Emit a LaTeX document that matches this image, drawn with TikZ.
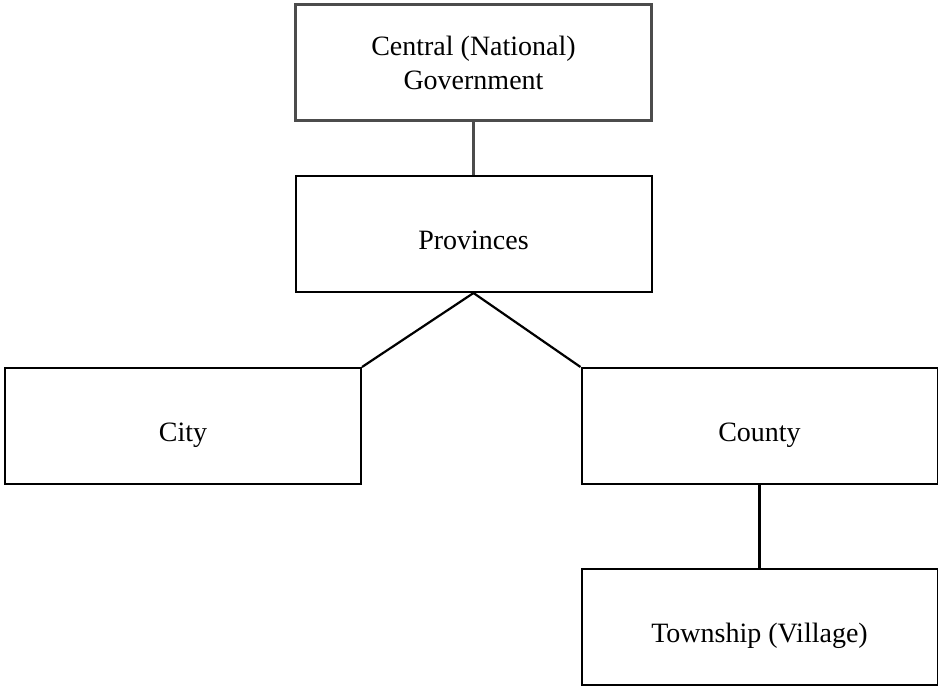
\documentclass[tikz,border=0pt]{standalone}
\usepackage{fontspec}
\setmainfont{Liberation Serif}
\usetikzlibrary{positioning}

\tikzset{
    unitbox/.style = {draw, line width = 1pt, minimum width = 178pt, minimum height = 58pt,
        align = center, font = \fontsize{14}{17}\selectfont, inner sep = 0pt,
        text height = 18pt, text depth = 3pt},
    topbox/.style = {unitbox, draw = black!70, line width = 1.5pt, text height = , text depth = },
    link/.style = {line width = 1.1pt}
}

\begin{document}
\begin{tikzpicture}[x = 1pt, y = 1pt]
    \useasboundingbox (0, 0) rectangle (469, -343);

    \node[topbox] (central) at (236.75, -31.25) {Central (National)\\Government};
    \node[unitbox] (provinces) at (236.75, -117) {Provinces};
    \node[unitbox] (city) at (91.5, -213) {City};
    \node[unitbox] (county) at (379.75, -213) {County};
    \node[unitbox] (township) at (379.75, -313.5) {Township (Village)};

    \draw[link, draw = black!70] (central.south) -- (provinces.north);
    \foreach \corner/\target in {north east/city, north west/county} {
        \draw[link] (provinces.south) -- (\target.\corner);
    }
    \draw[link] (county.south) -- (township.north);
\end{tikzpicture}
\end{document}
